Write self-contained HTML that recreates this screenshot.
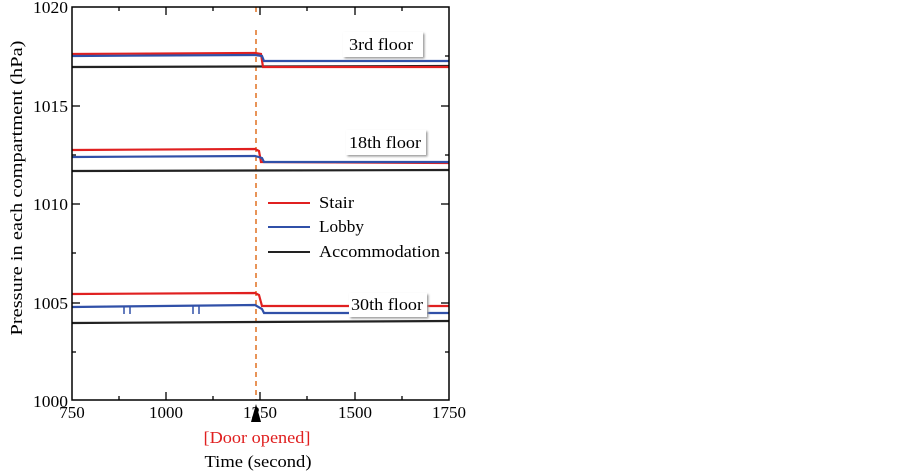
<!DOCTYPE html>
<html><head><style>body{margin:0;background:#fff}svg{display:block}text{font-family:"Liberation Serif",serif}</style></head><body>
<svg width="903" height="472" viewBox="0 0 903 472">
<defs><filter id="sh"><feDropShadow dx="1.5" dy="1.5" stdDeviation="1" flood-color="#999"/></filter></defs>
<g stroke="#000" stroke-width="1.3">
<line x1="119" y1="7" x2="119" y2="11"/><line x1="166" y1="7" x2="166" y2="15"/><line x1="213" y1="7" x2="213" y2="11"/><line x1="260" y1="7" x2="260" y2="15"/><line x1="307" y1="7" x2="307" y2="11"/><line x1="355" y1="7" x2="355" y2="15"/><line x1="402" y1="7" x2="402" y2="11"/>
<line x1="119" y1="400" x2="119" y2="396"/><line x1="166" y1="400" x2="166" y2="392"/><line x1="213" y1="400" x2="213" y2="396"/><line x1="260" y1="400" x2="260" y2="392"/><line x1="307" y1="400" x2="307" y2="396"/><line x1="355" y1="400" x2="355" y2="392"/><line x1="402" y1="400" x2="402" y2="396"/>
<line x1="72" y1="106" x2="80" y2="106"/><line x1="72" y1="204" x2="80" y2="204"/><line x1="72" y1="303" x2="80" y2="303"/><line x1="72" y1="56" x2="76" y2="56"/><line x1="72" y1="155" x2="76" y2="155"/><line x1="72" y1="253" x2="76" y2="253"/><line x1="72" y1="352" x2="76" y2="352"/>
<line x1="449" y1="106" x2="441" y2="106"/><line x1="449" y1="204" x2="441" y2="204"/><line x1="449" y1="303" x2="441" y2="303"/><line x1="449" y1="56" x2="445" y2="56"/><line x1="449" y1="155" x2="445" y2="155"/><line x1="449" y1="253" x2="445" y2="253"/><line x1="449" y1="352" x2="445" y2="352"/>
</g>
<line x1="256" y1="30" x2="256" y2="400" stroke="#e07020" stroke-width="1.5" stroke-dasharray="5,4"/>
<line x1="256" y1="7" x2="256" y2="12" stroke="#e07020" stroke-width="1.5"/>
<g fill="none" stroke-width="2.2">
<polyline stroke="#222" points="72,67 449,66"/>
<polyline stroke="#e02020" points="72,54 255,53 261,54 263,67 449,67"/>
<polyline stroke="#3050a8" points="72,56 255,55 262,56 264,61 360,61 449,61"/>
<polyline stroke="#222" points="72,171 449,170"/>
<polyline stroke="#e02020" points="72,150 255,149 259,151 261,162 449,163"/>
<polyline stroke="#3050a8" points="72,157 255,156 262,158 264,162 449,162"/>
<polyline stroke="#222" points="72,323 449,321"/>
<polyline stroke="#e02020" points="72,294 255,293 259,295 262,306 449,306"/>
<polyline stroke="#3050a8" points="72,307 255,305 262,309 264,313 449,313"/>
</g>
<g stroke="#3050a8" stroke-width="1.5"><line x1="124" y1="306" x2="124" y2="314"/><line x1="130" y1="306" x2="130" y2="314"/><line x1="193" y1="306" x2="193" y2="314"/><line x1="199" y1="306" x2="199" y2="314"/></g>
<rect x="72" y="7" width="377" height="393" fill="none" stroke="#000" stroke-width="1.5"/>
<g filter="url(#sh)" fill="#fff"><rect x="343" y="32" width="80" height="25"/><rect x="346" y="130" width="80" height="25"/><rect x="349" y="293" width="78" height="24"/></g>
<g font-size="17" fill="#000">
<text x="349" y="50" textLength="64" lengthAdjust="spacingAndGlyphs">3rd floor</text><text x="349" y="148" textLength="72" lengthAdjust="spacingAndGlyphs">18th floor</text><text x="351" y="310" textLength="72" lengthAdjust="spacingAndGlyphs">30th floor</text>
<text x="319" y="208" textLength="35" lengthAdjust="spacingAndGlyphs">Stair</text><text x="319" y="232" textLength="45" lengthAdjust="spacingAndGlyphs">Lobby</text><text x="319" y="257" textLength="121" lengthAdjust="spacingAndGlyphs">Accommodation</text>
</g>
<line x1="268" y1="203" x2="310" y2="203" stroke="#e02020" stroke-width="2"/>
<line x1="268" y1="227" x2="310" y2="227" stroke="#3050a8" stroke-width="2"/>
<line x1="268" y1="252" x2="310" y2="252" stroke="#222" stroke-width="2"/>
<g font-size="17" text-anchor="end"><text x="68" y="13" textLength="35" lengthAdjust="spacingAndGlyphs">1020</text><text x="68" y="112" textLength="35" lengthAdjust="spacingAndGlyphs">1015</text><text x="68" y="210" textLength="35" lengthAdjust="spacingAndGlyphs">1010</text><text x="68" y="309" textLength="35" lengthAdjust="spacingAndGlyphs">1005</text><text x="68" y="407" textLength="35" lengthAdjust="spacingAndGlyphs">1000</text></g>
<g font-size="17" text-anchor="middle"><text x="72" y="418">750</text><text x="166" y="418">1000</text><text x="260" y="418">1250</text><text x="355" y="418">1500</text><text x="449" y="418">1750</text>
<text x="257" y="443" fill="#e02020" textLength="107" lengthAdjust="spacingAndGlyphs">[Door opened]</text><text x="258" y="467" textLength="107" lengthAdjust="spacingAndGlyphs">Time (second)</text>
<text transform="translate(22,188) rotate(-90)" textLength="295" lengthAdjust="spacingAndGlyphs">Pressure in each compartment (hPa)</text></g>
<polygon points="256,404 251,422 261,422" fill="#000"/>
</svg>
</body></html>
